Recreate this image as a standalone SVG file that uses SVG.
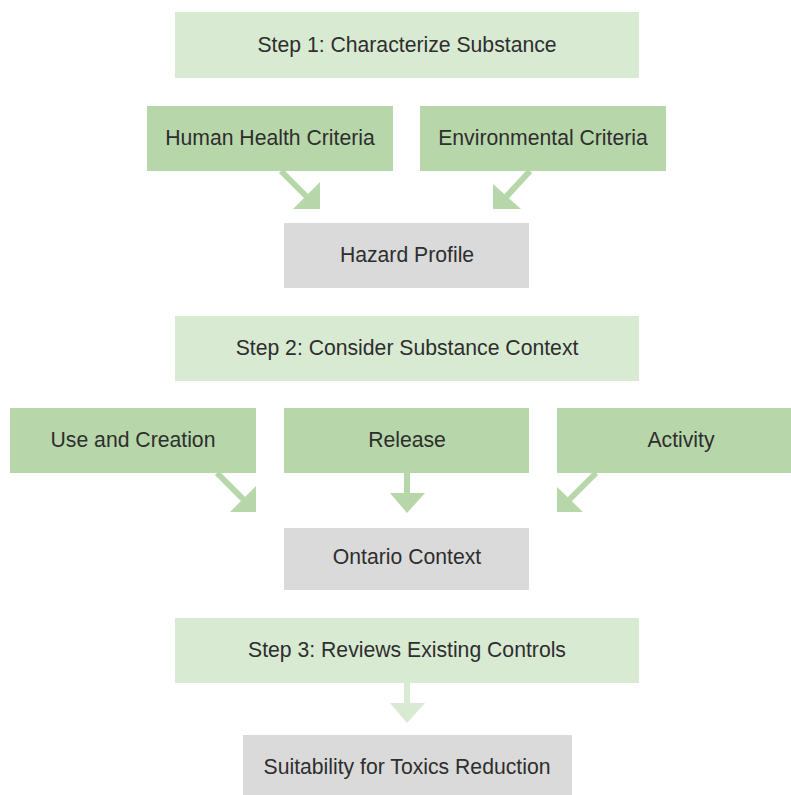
<svg xmlns="http://www.w3.org/2000/svg" width="791" height="795" viewBox="0 0 791 795">
<style>
.step{fill:#d9ead3}
.crit{fill:#b7d7aa}
.res{fill:#dadada}
text{font-family:"Liberation Sans",Arial,sans-serif;font-size:21.2px;fill:#2e2e2e;text-anchor:middle}
.shaft{stroke:#b7d7aa;stroke-width:6;fill:none}
.head{fill:#b7d7aa}
.shaft2{stroke:#d9ead3;stroke-width:6;fill:none}
.head2{fill:#d9ead3}
</style>
<rect width="791" height="795" fill="#ffffff"/>
<g id="step1"><rect class="step" x="175" y="12" width="464" height="66"/><text x="407" y="52">Step 1: Characterize Substance</text></g>
<g id="human-health"><rect class="crit" x="147" y="106" width="246" height="65"/><text x="270" y="145">Human Health Criteria</text></g>
<g id="environmental"><rect class="crit" x="420" y="106" width="246" height="65"/><text x="543" y="145">Environmental Criteria</text></g>
<g id="hazard"><rect class="res" x="284" y="223" width="245" height="65"/><text x="407" y="262">Hazard Profile</text></g>
<g id="step2"><rect class="step" x="175" y="316" width="464" height="65"/><text x="407" y="355">Step 2: Consider Substance Context</text></g>
<g id="use-creation"><rect class="crit" x="10" y="408" width="246" height="65"/><text x="133" y="447">Use and Creation</text></g>
<g id="release"><rect class="crit" x="284" y="408" width="245" height="65"/><text x="407" y="447">Release</text></g>
<g id="activity"><rect class="crit" x="557" y="408" width="248" height="65"/><text x="681" y="447">Activity</text></g>
<g id="ontario"><rect class="res" x="284" y="528" width="245" height="62"/><text x="407" y="564">Ontario Context</text></g>
<g id="step3"><rect class="step" x="175" y="618" width="464" height="65"/><text x="407" y="657">Step 3: Reviews Existing Controls</text></g>
<g id="suitability"><rect class="res" x="243" y="735" width="329" height="62"/><text x="407" y="774">Suitability for Toxics Reduction</text></g>
<g id="connectors">
<line class="shaft" x1="281" y1="171" x2="308" y2="198"/><polygon class="head" points="293,209 320,209 320,182"/>
<line class="shaft" x1="530" y1="171" x2="505" y2="198"/><polygon class="head" points="493,184 493,209 521,209"/>
<line class="shaft" x1="217" y1="473" x2="244" y2="500"/><polygon class="head" points="230,512 256,512 256,486"/>
<line class="shaft" x1="407" y1="473" x2="407" y2="494"/><polygon class="head" points="390,493 425,493 407,513"/>
<line class="shaft" x1="596" y1="473" x2="569" y2="500"/><polygon class="head" points="557,487 557,512 583,512"/>
<line class="shaft2" x1="407" y1="683" x2="407" y2="704"/><polygon class="head2" points="390,703 425,703 407,723"/>
</g>
</svg>
